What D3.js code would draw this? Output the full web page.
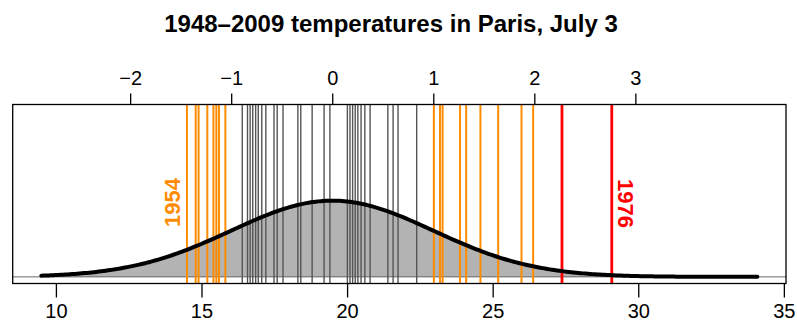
<!DOCTYPE html>
<html>
<head>
<meta charset="utf-8">
<title>Paris July 3</title>
<script src="https://d3js.org/d3.v7.min.js"></script>
<style>
  body { margin: 0; background: white; }
  svg { display: block; font-family: "Liberation Sans", Arial, sans-serif; }
</style>
</head>
<body>
<svg id="chart" width="797" height="322"></svg>
<script>
// temperatures (deg C), one vertical line each
var temps = [14.50, 14.80, 14.90, 15.20, 15.41, 15.51, 15.60, 15.82,
             16.40, 16.58, 16.67, 16.76, 16.86, 16.95, 17.07, 17.21,
             17.49, 17.60, 17.80, 18.31, 18.41, 18.80, 19.21, 19.41,
             20.01, 20.10, 20.19, 20.28, 20.37, 20.48, 20.61, 20.79,
             21.40, 21.58, 21.75, 22.39,
             22.98, 23.19, 23.28, 23.88, 24.09, 24.58, 25.19, 25.99, 26.39,
             27.38, 29.09];
var mean = 19.49, sd = 3.47;
var labelYears = [1954, 1976];
var labelTemps = [14.50, 29.09];
var bottomTicks = [10, 15, 20, 25, 30, 35];
var topTicks = [-2, -1, 0, 1, 2, 3];
var yMax = 0.25;

var svg = d3.select("#chart");
var L = 12.7, R = 786, T = 104.5, B = 283.5;

// curve runs from min-5 to max+5, R style 4% padding
var lo = d3.min(temps) - 5, hi = d3.max(temps) + 5;
var px = (hi - lo) * 0.04;
var x = d3.scaleLinear().domain([lo - px, hi + px]).range([L, R]);
var z = d3.scaleLinear().domain([(lo - px - mean) / sd, (hi + px - mean) / sd]).range([L, R]);
var y = d3.scaleLinear().domain([-0.04 * yMax, 1.04 * yMax]).range([B, T]);

function dens(t) {
  var u = (t - mean) / sd;
  return Math.exp(-u * u / 2) / (sd * Math.sqrt(2 * Math.PI));
}
var pts = d3.range(0, 301).map(function(i) { var t = lo + (hi - lo) * i / 300; return [t, dens(t)]; });

svg.append("path")
  .datum(pts)
  .attr("d", d3.area().x(d => x(d[0])).y0(y(0)).y1(d => y(d[1])))
  .attr("fill", "#b3b3b3");

svg.append("line")
  .attr("x1", L).attr("x2", R).attr("y1", y(0)).attr("y2", y(0))
  .attr("stroke", "#444").attr("stroke-width", 0.8);

function col(t) {
  var a = Math.abs((t - mean) / sd);
  return a < 1 ? "#555555" : a < 2 ? "#ff8c00" : "#ff0000";
}
function wid(t) {
  var a = Math.abs((t - mean) / sd);
  return a < 1 ? 1.4 : a < 2 ? 2 : 2.8;
}
svg.selectAll("line.yr")
  .data(temps)
  .join("line")
  .attr("class", "yr")
  .attr("x1", d => x(d)).attr("x2", d => x(d))
  .attr("y1", T).attr("y2", B)
  .attr("stroke", col)
  .attr("stroke-width", wid);

svg.append("path")
  .datum(pts)
  .attr("d", d3.line().x(d => x(d[0])).y(d => y(d[1])))
  .attr("fill", "none")
  .attr("stroke", "black")
  .attr("stroke-width", 4)
  .attr("stroke-linecap", "round")
  .attr("stroke-linejoin", "round");

// year labels
svg.selectAll("text.yl")
  .data(labelYears)
  .join("text")
  .attr("class", "yl")
  .attr("transform", (d, i) => i == 0
    ? "translate(" + (x(labelTemps[i]) - 6.5) + "," + 202.5 + ") rotate(-90)"
    : "translate(" + (x(labelTemps[i]) + 6.5) + "," + 203.5 + ") rotate(90)")
  .attr("text-anchor", "middle")
  .attr("font-size", 22)
  .attr("font-weight", "bold")
  .attr("fill", (d, i) => col(labelTemps[i]))
  .text(d => d);

// box
svg.append("rect")
  .attr("x", L).attr("y", T).attr("width", R - L).attr("height", B - T)
  .attr("fill", "none").attr("stroke", "black").attr("stroke-width", 1.3);

// axes
var gb = svg.append("g").attr("transform", "translate(0," + B + ")")
  .call(d3.axisBottom(x).tickValues(bottomTicks).tickSize(14).tickPadding(6.3).tickFormat(d3.format("d")));
var gt = svg.append("g").attr("transform", "translate(0," + T + ")")
  .call(d3.axisTop(z).tickValues(topTicks).tickSize(11).tickPadding(8.5));
[gb, gt].forEach(function(g) {
  g.select(".domain").remove();
  g.selectAll("line").attr("stroke", "black").attr("stroke-width", 1.3);
  g.selectAll("text").attr("font-size", 20).attr("font-family", "Liberation Sans, Arial, sans-serif").attr("fill", "black");
});

svg.append("text")
  .attr("x", 391).attr("y", 32)
  .attr("text-anchor", "middle")
  .attr("font-size", 24)
  .attr("font-weight", "bold")
  .text("1948\u20132009 temperatures in Paris, July 3");
</script>
</body>
</html>
